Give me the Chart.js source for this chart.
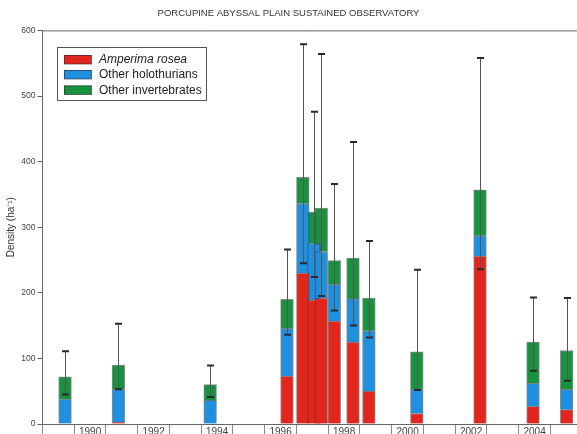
<!DOCTYPE html>
<html>
<head>
<meta charset="utf-8">
<script src="https://cdn.jsdelivr.net/npm/chart.js@4/dist/chart.umd.min.js"></script>
<style>
  html, body { margin: 0; padding: 0; background: #ffffff; overflow: hidden; }
  canvas { display: block; }
</style>
</head>
<body>
<canvas id="c" width="577" height="434"></canvas>
<script>
// ---- data ----
const sampleDates = [1989.71, 1991.39, 1994.28, 1996.70, 1997.20, 1997.55, 1997.78, 1998.19, 1998.78, 1999.28, 2000.79, 2002.78, 2004.45, 2005.51];
const amperimaRosea = [0, 3, 0, 73, 230, 189, 192, 157, 125, 50, 16, 256, 27, 22];
const otherHolothurians = [38, 50, 36, 73, 106, 86, 71, 56, 66, 92, 37, 31, 35, 31];
const otherInvertebrates = [34, 37, 24, 44, 40, 48, 66, 36, 62, 50, 57, 70, 63, 59];
const errorUpper = [111, 153, 89, 266, 579, 476, 564, 366, 430, 279, 235, 558, 193, 192];
const errorLower = [45, 53, 41, 136, 245, 224, 195, 173, 150, 132, 52, 236, 81, 66];
const labelledYears = [1990, 1992, 1994, 1996, 1998, 2000, 2002, 2004];
const yearBoundaries = [1989, 1990, 1991, 1992, 1993, 1994, 1995, 1996, 1997, 1998, 1999, 2000, 2001, 2002, 2003, 2004, 2005];
const yTicks = [0, 100, 200, 300, 400, 500, 600];
const seriesNames = ['Amperima rosea', 'Other holothurians', 'Other invertebrates'];
const seriesColors = ['#e2261d', '#1f8fe0', '#17923f'];

const FONT = '"Liberation Sans", Arial, Helvetica, sans-serif';

function pts(arr) { return sampleDates.map((d, i) => ({ x: d, y: arr[i] })); }

const errorBarPlugin = {
  id: 'errorBars',
  afterDatasetsDraw(chart) {
    const ctx = chart.ctx, xs = chart.scales.x, ys = chart.scales.y;
    ctx.save();
    sampleDates.forEach((d, i) => {
      const x = Math.round(xs.getPixelForValue(d)) + 0.5;
      const yu = ys.getPixelForValue(errorUpper[i]);
      const yl = ys.getPixelForValue(errorLower[i]);
      ctx.strokeStyle = '#555555';
      ctx.lineWidth = 1;
      ctx.beginPath(); ctx.moveTo(x, yl); ctx.lineTo(x, yu); ctx.stroke();
      ctx.strokeStyle = '#2a2a2a';
      ctx.lineWidth = 2;
      ctx.beginPath();
      ctx.moveTo(x - 3.5, yu); ctx.lineTo(x + 3.5, yu);
      ctx.moveTo(x - 3.5, yl); ctx.lineTo(x + 3.5, yl);
      ctx.stroke();
    });
    ctx.restore();
  }
};

const framePlugin = {
  id: 'frame',
  afterDraw(chart) {
    const ctx = chart.ctx, a = chart.chartArea;
    ctx.save();
    ctx.strokeStyle = '#666666';
    ctx.lineWidth = 1;
    ctx.beginPath(); ctx.moveTo(a.left, a.top + 0.5); ctx.lineTo(a.right, a.top + 0.5); ctx.stroke();
    const bx = 57.5, by = 47.5, bw = 149, bh = 53;
    ctx.fillStyle = '#ffffff';
    ctx.fillRect(bx, by, bw, bh);
    ctx.strokeStyle = '#555555';
    ctx.strokeRect(bx, by, bw, bh);
    const rows = [59.5, 74.5, 90];
    seriesNames.forEach((name, i) => {
      ctx.fillStyle = seriesColors[i];
      ctx.fillRect(64, rows[i] - 4.5, 27.5, 9);
      ctx.strokeStyle = 'rgba(40,40,40,0.6)';
      ctx.lineWidth = 1;
      ctx.strokeRect(64.5, rows[i] - 4, 27, 8.5);
      ctx.fillStyle = '#222222';
      ctx.font = (i === 0 ? 'italic ' : '') + '12px ' + FONT;
      ctx.textBaseline = 'middle';
      ctx.textAlign = 'left';
      ctx.fillText(name, 99, rows[i] + 0.5);
    });
    ctx.restore();
  }
};

const datasets = [amperimaRosea, otherHolothurians, otherInvertebrates].map((arr, i) => ({
  label: seriesNames[i],
  data: pts(arr),
  backgroundColor: seriesColors[i],
  borderColor: 'rgba(45,45,45,0.55)',
  borderWidth: 1,
  barThickness: 12.7
}));

new Chart(document.getElementById('c'), {
  type: 'bar',
  data: { datasets },
  options: {
    responsive: false,
    animation: false,
    devicePixelRatio: 1,
    layout: { padding: 0 },
    plugins: {
      legend: { display: false },
      tooltip: { enabled: false },
      title: {
        display: true,
        text: 'PORCUPINE ABYSSAL PLAIN SUSTAINED OBSERVATORY',
        color: '#333333',
        font: { family: FONT, size: 9.5, weight: 'normal' },
        padding: { top: 8, bottom: 11 }
      }
    },
    scales: {
      x: {
        type: 'linear',
        stacked: true,
        offset: false,
        min: 1989,
        max: 2005.835,
        afterBuildTicks(scale) {
          const t = yearBoundaries.map(v => ({ value: v }));
          labelledYears.forEach(y => t.push({ value: y + 0.5 }));
          t.sort((a, b) => a.value - b.value);
          scale.ticks = t;
        },
        afterFit(scale) { scale.height = 10; },
        border: { display: true, color: '#666666', width: 1 },
        grid: {
          offset: false,
          drawOnChartArea: false,
          drawTicks: true,
          tickLength: 10,
          color: (c) => (c.tick && Math.abs(c.tick.value - Math.round(c.tick.value)) < 1e-6) ? '#888888' : 'rgba(0,0,0,0)'
        },
        ticks: {
          autoSkip: false,
          maxRotation: 0,
          padding: -8,
          color: '#444444',
          font: { family: FONT, size: 10 },
          callback(value) {
            const fy = Math.floor(value);
            if (Math.abs(value - fy - 0.5) < 1e-6 && labelledYears.includes(fy)) return String(fy);
            return '';
          }
        }
      },
      y: {
        stacked: true,
        min: 0,
        max: 600,
        afterBuildTicks(scale) { scale.ticks = yTicks.map(v => ({ value: v })); },
        afterFit(scale) { scale.width = 42.5; },
        border: { display: true, color: '#666666', width: 1 },
        grid: { drawOnChartArea: false, drawTicks: true, tickLength: 5, color: '#666666' },
        ticks: {
          padding: 2,
          color: '#444444',
          font: { family: FONT, size: 8.5 }
        },
        title: {
          display: true,
          text: 'Density (ha⁻¹)',
          color: '#333333',
          font: { family: FONT, size: 10 },
          padding: { top: 5, bottom: 0 }
        }
      }
    }
  },
  plugins: [errorBarPlugin, framePlugin]
});
</script>
</body>
</html>
